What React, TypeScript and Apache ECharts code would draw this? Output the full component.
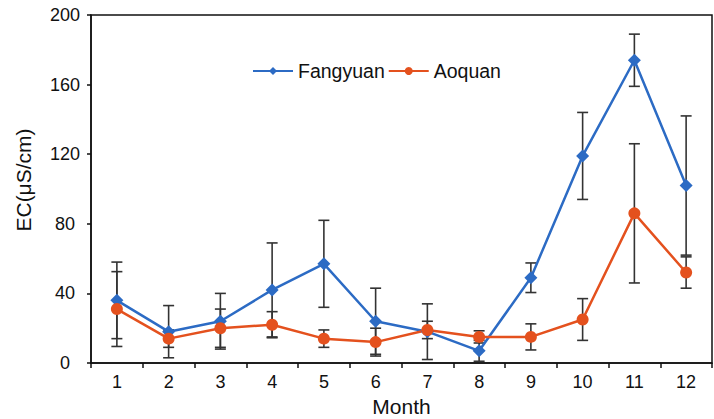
import React, { useEffect, useRef } from "react";
import * as echarts from "echarts";

const months = ["1", "2", "3", "4", "5", "6", "7", "8", "9", "10", "11", "12"];
const fangyuan = [36, 18, 24, 42, 57, 24, 18, 7, 49, 119, 174, 102];
const fangyuanErr = [22, 15, 16, 27, 25, 19, 16, 6, 8.5, 25, 15, 40];
const aoquan = [31, 14, 20, 22, 14, 12, 19, 15, 15, 25, 86, 52];
const aoquanErr = [21.5, 5, 11, 7.5, 5, 8, 5, 3.5, 7.5, 12, 40, 9];

const BLUE = "#2C6BC4";
const ORANGE = "#E4511E";

function errData(vals: number[], errs: number[]) {
  return vals.map((v, i) => [i, v - errs[i], v + errs[i]]);
}

function renderErr(params: any, api: any) {
  const x = api.value(0);
  const lo = api.coord([x, api.value(1)]);
  const hi = api.coord([x, api.value(2)]);
  const hw = 5.5;
  const style = { stroke: "#333", lineWidth: 1.6 };
  return {
    type: "group",
    children: [
      { type: "line", shape: { x1: lo[0], y1: lo[1], x2: hi[0], y2: hi[1] }, style },
      { type: "line", shape: { x1: lo[0] - hw, y1: lo[1], x2: lo[0] + hw, y2: lo[1] }, style },
      { type: "line", shape: { x1: hi[0] - hw, y1: hi[1], x2: hi[0] + hw, y2: hi[1] }, style },
    ],
  };
}

export default function App() {
  const ref = useRef<HTMLDivElement>(null);
  useEffect(() => {
    if (!ref.current) return;
    const chart = echarts.init(ref.current, null, { renderer: "svg" });
    const font = "Liberation Sans, Arial, sans-serif";
    chart.setOption({
      animation: false,
      textStyle: { fontFamily: font },
      legend: {
        top: 56,
        left: 247,
        itemWidth: 40,
        itemHeight: 10,
        itemGap: 3,
        textStyle: { fontSize: 19.5, color: "#111", fontFamily: font },
        data: ["Fangyuan", "Aoquan"],
      },
      grid: {
        left: 91,
        right: 2,
        top: 15,
        bottom: 56,
        outerBoundsMode: "none",
        containLabel: false,
        show: true,
        borderColor: "#111",
        borderWidth: 1.5,
      },
      xAxis: {
        type: "category",
        data: months,
        boundaryGap: true,
        name: "Month",
        nameLocation: "middle",
        nameGap: 31,
        nameTextStyle: { fontSize: 21, color: "#111" },
        axisLine: { lineStyle: { color: "#111", width: 1.5 } },
        axisTick: { show: true, length: 5, lineStyle: { color: "#111", width: 1.5 } },
        axisLabel: { fontSize: 18, color: "#111", margin: 10 },
      },
      yAxis: {
        type: "value",
        min: 0,
        max: 200,
        interval: 40,
        name: "EC(μS/cm)",
        nameLocation: "middle",
        nameGap: 57,
        nameTextStyle: { fontSize: 21, color: "#111", padding: [0, 0, 0, 18] },
        splitLine: { show: false },
        axisLine: { show: true, lineStyle: { color: "#111", width: 1.5 } },
        axisTick: { show: true, length: 4, lineStyle: { color: "#111", width: 1.5 } },
        axisLabel: { fontSize: 18, color: "#111", margin: 26, align: "center" },
      },
      series: [
        {
          type: "custom",
          name: "errF",
          renderItem: renderErr,
          data: errData(fangyuan, fangyuanErr),
          encode: { x: 0, y: [1, 2] },
          z: 1,
          silent: true,
        },
        {
          type: "custom",
          name: "errA",
          renderItem: renderErr,
          data: errData(aoquan, aoquanErr),
          encode: { x: 0, y: [1, 2] },
          z: 1,
          silent: true,
        },
        {
          name: "Fangyuan",
          type: "line",
          data: fangyuan,
          symbol: "diamond",
          symbolSize: 13,
          itemStyle: { color: BLUE },
          lineStyle: { color: BLUE, width: 2.5 },
          z: 3,
        },
        {
          name: "Aoquan",
          type: "line",
          data: aoquan,
          symbol: "circle",
          symbolSize: 12,
          itemStyle: { color: ORANGE },
          lineStyle: { color: ORANGE, width: 2.5 },
          z: 3,
        },
      ],
    });
    return () => chart.dispose();
  }, []);
  return (
    <div
      ref={ref}
      style={{ width: 714, height: 419, position: "absolute", left: 0, top: 0 }}
    />
  );
}
